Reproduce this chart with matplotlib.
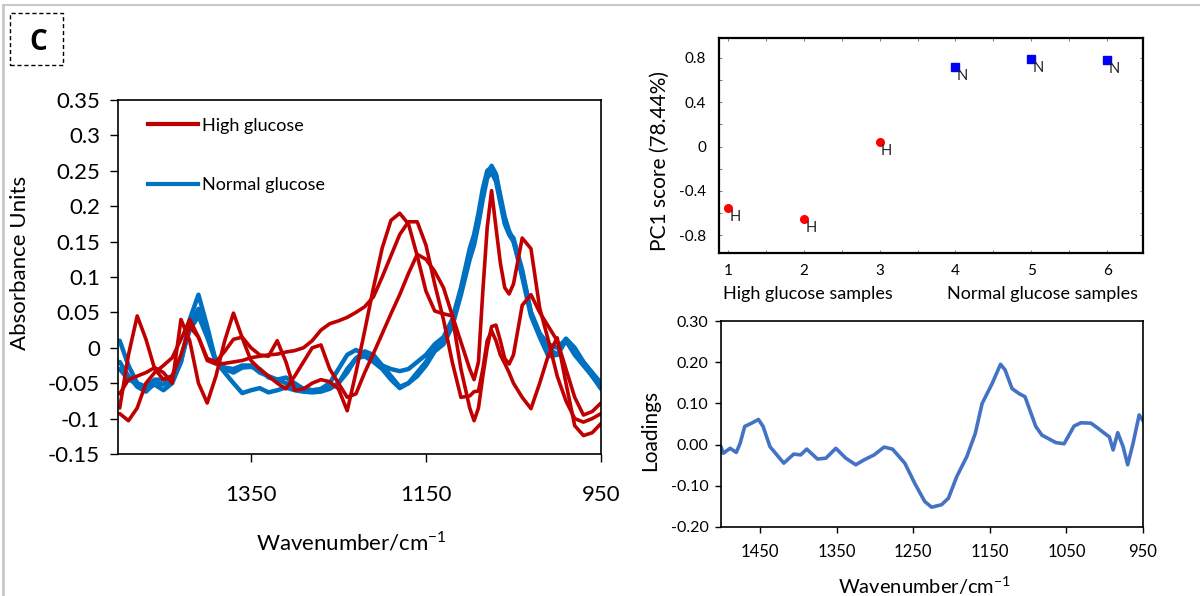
import numpy as np
import matplotlib
matplotlib.use('Agg')
import matplotlib.pyplot as plt
from matplotlib.lines import Line2D
from matplotlib.patches import Rectangle
from matplotlib.ticker import MultipleLocator, FormatStrFormatter, FuncFormatter

plt.rcParams['font.family'] = ['Lato', 'DejaVu Sans']
plt.rcParams['axes.unicode_minus'] = False

# ---- spectra (left panel) ----
WN = [1500, 1490, 1480, 1470, 1460, 1450, 1440, 1430, 1420, 1410,
      1400, 1390, 1380, 1370, 1360, 1350, 1340, 1330, 1320, 1310,
      1300, 1290, 1280, 1270, 1260, 1250, 1240, 1230, 1220, 1210,
      1200, 1190, 1180, 1170, 1160, 1150, 1140, 1130, 1120, 1110,
      1100, 1095, 1090, 1085, 1080, 1075, 1070, 1065, 1060, 1055,
      1050, 1040, 1030, 1020, 1010, 1000, 990, 980, 970, 960, 950]

normal_1 = [0.01, -0.025, -0.05, -0.058, -0.052, -0.06, -0.05, -0.02, 0.04, 0.075,
            0.03, -0.02, -0.035, -0.05, -0.064, -0.06, -0.057, -0.063, -0.06, -0.056,
            -0.06, -0.062, -0.063, -0.062, -0.058, -0.05, -0.035, -0.015, -0.005, -0.01,
            -0.025, -0.04, -0.055, -0.05, -0.035, -0.02, 0.0, 0.01, 0.035, 0.08,
            0.13, 0.15, 0.18, 0.215, 0.245, 0.257, 0.245, 0.215, 0.185, 0.165,
            0.152, 0.1, 0.045, 0.015, -0.012, -0.01, 0.01, -0.01, -0.025, -0.04, -0.055]
normal_2 = [-0.02, -0.04, -0.055, -0.062, -0.05, -0.052, -0.045, -0.02, 0.03, 0.055,
            0.02, -0.02, -0.03, -0.035, -0.028, -0.027, -0.03, -0.042, -0.045, -0.042,
            -0.05, -0.058, -0.06, -0.06, -0.057, -0.05, -0.03, -0.015, -0.012, -0.02,
            -0.03, -0.045, -0.057, -0.05, -0.04, -0.025, -0.005, 0.005, 0.03, 0.075,
            0.125, 0.145, 0.175, 0.21, 0.24, 0.248, 0.235, 0.205, 0.175, 0.16,
            0.15, 0.105, 0.05, 0.02, 0.005, 0.0, 0.012, -0.005, -0.02, -0.035, -0.05]
normal_3 = [-0.03, -0.045, -0.05, -0.055, -0.045, -0.045, -0.04, -0.015, 0.025, 0.045,
            0.015, -0.02, -0.028, -0.03, -0.025, -0.025, -0.035, -0.04, -0.045, -0.05,
            -0.055, -0.058, -0.06, -0.058, -0.05, -0.03, -0.01, -0.003, -0.01, -0.018,
            -0.025, -0.03, -0.033, -0.03, -0.02, -0.01, 0.005, 0.015, 0.04, 0.085,
            0.14, 0.16, 0.19, 0.225, 0.25, 0.255, 0.245, 0.21, 0.18, 0.162,
            0.155, 0.11, 0.05, 0.02, 0.0, -0.01, 0.013, 0.0, -0.02, -0.04, -0.058]

high_1 = [-0.085, -0.01, 0.045, 0.012, -0.03, -0.045, -0.04, -0.01, 0.03, 0.015,
          -0.015, -0.02, -0.005, 0.012, 0.015, 0.0, -0.01, -0.012, 0.01, -0.02,
          -0.06, -0.058, -0.05, -0.045, -0.048, -0.058, -0.089, -0.035, 0.024, 0.085,
          0.141, 0.18, 0.19, 0.175, 0.13, 0.08, 0.052, 0.048, 0.045, -0.03,
          -0.085, -0.103, -0.085, -0.04, 0.0, 0.03, 0.032, 0.01, -0.015, -0.023,
          -0.01, 0.06, 0.075, 0.05, 0.03, 0.01, -0.03, -0.07, -0.095, -0.09, -0.078]
high_2 = [-0.093, -0.103, -0.085, -0.05, -0.035, -0.025, -0.014, 0.012, 0.04, 0.015,
          -0.018, -0.023, -0.022, -0.02, -0.018, -0.014, -0.012, -0.01, -0.009, -0.006,
          -0.004, 0.0, 0.01, 0.025, 0.034, 0.038, 0.043, 0.05, 0.058, 0.072,
          0.1, 0.13, 0.16, 0.178, 0.178, 0.145, 0.09, 0.04, -0.02, -0.07,
          -0.068, -0.062, -0.061, -0.03, 0.01, 0.024, 0.01, -0.01, -0.022, -0.035,
          -0.05, -0.07, -0.086, -0.05, -0.01, 0.014, -0.05, -0.11, -0.124, -0.12, -0.107]
high_3 = [-0.065, -0.045, -0.04, -0.035, -0.028, -0.035, -0.05, 0.04, 0.01, -0.05,
          -0.078, -0.04, 0.01, 0.049, 0.014, -0.018, -0.03, -0.04, -0.05, -0.058,
          -0.04, -0.02, 0.0, 0.004, -0.03, -0.05, -0.07, -0.065, -0.035, -0.008,
          0.02, 0.048, 0.075, 0.105, 0.132, 0.125, 0.108, 0.085, 0.046, 0.008,
          -0.03, -0.045, -0.02, 0.08, 0.17, 0.222, 0.17, 0.12, 0.085, 0.076,
          0.09, 0.155, 0.14, 0.056, 0.01, -0.04, -0.075, -0.1, -0.105, -0.1, -0.093]

# ---- PC1 scores (top right) ----
sample_idx = [1, 2, 3, 4, 5, 6]
pc1_score = [-0.55, -0.65, 0.04, 0.72, 0.79, 0.78]
sample_tag = ['H', 'H', 'H', 'N', 'N', 'N']

# ---- PC1 loadings (bottom right) ----
load_wn = [1501, 1498, 1489, 1481, 1476, 1470, 1461, 1452, 1446, 1437,
           1419, 1406, 1397, 1389, 1375, 1364, 1351, 1338, 1325, 1314,
           1301, 1288, 1277, 1261, 1248, 1235, 1226, 1213, 1204, 1193,
           1180, 1169, 1160, 1147, 1136, 1130, 1121, 1112, 1104, 1090,
           1082, 1064, 1053, 1040, 1031, 1018, 1009, 1000, 994, 989,
           983, 976, 970, 963, 955, 950]
load_val = [-0.005, -0.021, -0.009, -0.019, 0.003, 0.044, 0.052, 0.061, 0.044, -0.005,
            -0.045, -0.023, -0.025, -0.011, -0.035, -0.033, -0.009, -0.033, -0.049, -0.037,
            -0.025, -0.006, -0.011, -0.045, -0.094, -0.138, -0.152, -0.146, -0.13, -0.077,
            -0.029, 0.027, 0.1, 0.148, 0.195, 0.181, 0.136, 0.124, 0.116, 0.044,
            0.023, 0.005, 0.002, 0.045, 0.053, 0.052, 0.04, 0.027, 0.019, -0.013,
            0.029, -0.005, -0.049, 0.003, 0.072, 0.058]

RED = '#C00000'
BLUE = '#0070C0'

fig = plt.figure(figsize=(12, 5.96), dpi=100)

# page frame and panel tag
fig.add_artist(Line2D([0.0025, 1], [1 - 5 / 596, 1 - 5 / 596], color='#c8c8c8', lw=1.5))
fig.add_artist(Line2D([3 / 1200, 3 / 1200], [0, 1 - 5 / 596], color='#c8c8c8', lw=2))
fig.add_artist(Rectangle((10 / 1200, 1 - 65 / 596), 53 / 1200, 52 / 596, fill=False,
                         ls=(0, (3, 2)), lw=1, ec='black', transform=fig.transFigure))
fig.text(38 / 1200, 1 - 43 / 596, 'C', fontsize=20, fontweight='bold', ha='center',
         va='center', family=['Open Sans', 'DejaVu Sans'])

# ---- left: spectra ----
ax = fig.add_axes([0.0983, 0.2383, 0.4025, 0.5939])
for y in [normal_1, normal_2, normal_3]:
    ax.plot(WN, y, color=BLUE, lw=3.2, solid_capstyle='round', solid_joinstyle='round')
for y in [high_1, high_2, high_3]:
    ax.plot(WN, y, color=RED, lw=2.6, solid_capstyle='round', solid_joinstyle='round')
ax.set_xlim(1502, 950)
ax.set_ylim(-0.15, 0.35)
ax.set_xticks([1350, 1150, 950])
ax.set_yticks(np.arange(-0.15, 0.351, 0.05))
ax.yaxis.set_major_formatter(FuncFormatter(lambda v, p: f'{v:g}' if abs(v) > 1e-9 else '0'))
ax.tick_params(direction='out', length=6, width=1, labelsize=16)
ax.tick_params(axis='x', pad=16)
ax.tick_params(axis='y', pad=7)
for s in ax.spines.values():
    s.set_linewidth(1.2)
ax.set_ylabel('Absorbance Units', fontsize=16)
ax.yaxis.set_label_coords(-0.182, 0.54)
ax.set_xlabel('Wavenumber/cm$^{\\mathregular{-1}}$', fontsize=16)
ax.xaxis.set_label_coords(0.484, -0.215)
handles = [Line2D([], [], color=RED, lw=3), Line2D([], [], color=BLUE, lw=3)]
ax.legend(handles, ['High glucose', 'Normal glucose'], loc='upper left',
          bbox_to_anchor=(0.062, 0.95), frameon=False, fontsize=13,
          borderpad=0, borderaxespad=0, handlelength=2.8, handletextpad=0.2,
          labelspacing=2.4)

# ---- top right: PC1 scores ----
ax2 = fig.add_axes([0.599, 0.5755, 0.3533, 0.3607])
for i, v, t in zip(sample_idx, pc1_score, sample_tag):
    if t == 'H':
        ax2.plot(i, v, 'o', color='#FF0000', ms=5.5)
    else:
        ax2.plot(i, v, 's', color='#0000FF', ms=5.5)
    ax2.annotate(t, (i, v), xytext=(1, -6.5), textcoords='offset points',
                 ha='left', va='center', fontsize=10.5, color='#222222')
ax2.set_xlim(0.88, 6.47)
ax2.set_ylim(-0.96, 0.98)
ax2.set_xticks(sample_idx)
ax2.set_yticks([-0.8, -0.4, 0, 0.4, 0.8])
ax2.set_yticklabels(['-0.8', '-0.4', '0', '0.4', '0.8'])
ax2.xaxis.set_minor_locator(MultipleLocator(0.5))
ax2.yaxis.set_minor_locator(MultipleLocator(0.2))
ax2.tick_params(which='both', direction='in', length=2.5, width=0.6, color='#666666',
                top=True, right=True, labelsize=11)
ax2.tick_params(axis='y', pad=9)
ax2.tick_params(axis='x', pad=8)
for s in ax2.spines.values():
    s.set_linewidth(1.6)
ax2.set_ylabel('PC1 score (78.44%)', fontsize=15)
ax2.yaxis.set_label_coords(-0.116, 0.43)
ax2.text(0.21, -0.19, 'High glucose samples', transform=ax2.transAxes,
         ha='center', va='center', fontsize=13)
ax2.text(0.764, -0.19, 'Normal glucose samples', transform=ax2.transAxes,
         ha='center', va='center', fontsize=13)

# ---- bottom right: loadings ----
ax3 = fig.add_axes([0.6008, 0.1158, 0.3517, 0.3456])
ax3.plot(load_wn, load_val, color='#4472C4', lw=2.6, solid_capstyle='round',
         solid_joinstyle='round')
ax3.set_xlim(1501, 950)
ax3.set_ylim(-0.2, 0.3)
ax3.set_xticks([1450, 1350, 1250, 1150, 1050, 950])
ax3.set_yticks([-0.2, -0.1, 0.0, 0.1, 0.2, 0.3])
ax3.yaxis.set_major_formatter(FormatStrFormatter('%.2f'))
ax3.tick_params(direction='out', length=4, width=1, labelsize=12)
ax3.tick_params(axis='y', pad=5, labelsize=11.5)
ax3.tick_params(axis='x', pad=8)
for s in ax3.spines.values():
    s.set_linewidth(1.2)
ax3.set_ylabel('Loadings', fontsize=15)
ax3.yaxis.set_label_coords(-0.145, 0.47)
ax3.text(0.483, -0.228, 'Wavenumber/cm$^{\\mathregular{-1}}$', transform=ax3.transAxes,
         ha='center', va='top', fontsize=14.5)

fig.savefig('out.png', dpi=100)
